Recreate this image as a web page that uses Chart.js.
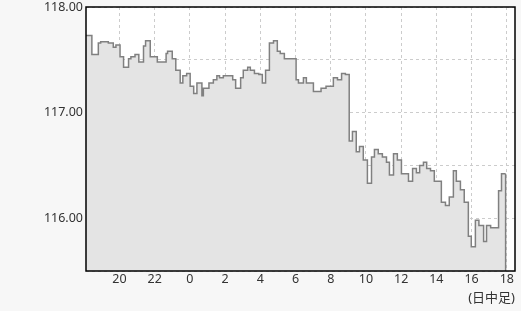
<!DOCTYPE html>
<html><head><meta charset="utf-8">
<script src="https://cdn.jsdelivr.net/npm/chart.js@4/dist/chart.umd.min.js"></script>
<style>html,body{margin:0;padding:0;background:#f7f7f7;}#wrap{width:521px;height:311px;}</style>
</head><body><div id="wrap"><canvas id="c" width="521" height="311"></canvas></div>
<script>
// minutes after 18:00 (previous day) where each step starts; last entry = end of data
const times = [6,26,48,56,82,99,108,122,134,151,
  159,173,186,202,209,225,249,279,284,300,
  312,327,336,349,361,373,384,401,406,425,
  440,452,461,474,506,516,533,542,557,566,
  580,595,607,618,631,645,658,668,682,722,
  730,747,757,781,807,824,849,863,877,890,
  903,914,927,938,951,965,979,989,1002,1016,
  1030,1040,1054,1067,1081,1105,1119,1132,1143,1156,
  1167,1180,1193,1217,1231,1244,1258,1268,1282,1295,
  1309,1319,1333,1345,1361,1371,1385,1412,1422,1436];
const prices = [117.73,117.55,117.66,117.67,117.66,117.62,117.64,117.53,117.43,117.51,
  117.53,117.55,117.48,117.63,117.68,117.53,117.48,117.56,117.58,117.51,
  117.40,117.28,117.35,117.37,117.25,117.18,117.28,117.16,117.23,117.28,
  117.31,117.35,117.33,117.35,117.31,117.23,117.33,117.40,117.43,117.40,
  117.37,117.36,117.28,117.40,117.66,117.68,117.58,117.56,117.51,117.31,
  117.28,117.33,117.28,117.20,117.23,117.25,117.33,117.31,117.37,117.36,
  116.73,116.82,116.63,116.68,116.55,116.33,116.58,116.65,116.61,116.58,
  116.53,116.41,116.61,116.55,116.42,116.35,116.47,116.43,116.50,116.53,
  116.47,116.45,116.35,116.15,116.12,116.20,116.45,116.35,116.27,116.15,
  115.83,115.73,115.98,115.93,115.78,115.93,115.91,116.26,116.42,116.42];
const tickMinutes = [120,240,360,480,600,720,840,960,1080,1200,1320,1440];
const tickLabels = ['20','22','0','2','4','6','8','10','12','14','16','18'];
const yGridValues = [115.5,116,116.5,117,117.5,118];
const xTitle = '(日中足)';

const FONT = "'Noto Sans','Noto Sans CJK JP',sans-serif";
const frame = {
  id: 'frame',
  beforeDraw(c) {
    const {ctx, chartArea: a} = c;
    ctx.save();
    ctx.fillStyle = '#f7f7f7'; ctx.fillRect(0, 0, c.width, c.height);
    ctx.fillStyle = '#ffffff'; ctx.fillRect(a.left, a.top, a.right - a.left, a.bottom - a.top);
    ctx.restore();
  },
  afterDatasetsDraw(c) {
    const {ctx, chartArea: a} = c;
    const meta = c.getDatasetMeta(0);
    const last = meta.data[meta.data.length - 1];
    ctx.save();
    ctx.strokeStyle = '#808080'; ctx.lineWidth = 1.5;
    ctx.beginPath(); ctx.moveTo(last.x, last.y); ctx.lineTo(last.x, a.bottom); ctx.stroke();
    ctx.restore();
  },
  afterDraw(c) {
    const {ctx, chartArea: a} = c;
    ctx.save();
    ctx.strokeStyle = '#000'; ctx.lineWidth = 1.5;
    ctx.strokeRect(a.left, a.top, a.right - a.left, a.bottom - a.top);
    ctx.restore();
  }
};

new Chart(document.getElementById('c'), {
  type: 'line',
  data: { datasets: [{
    data: times.map((t, i) => ({x: t, y: prices[i]})),
    stepped: true, fill: 'start',
    backgroundColor: '#e4e4e4', borderColor: '#808080', borderWidth: 1.5,
    pointRadius: 0, tension: 0
  }]},
  options: {
    responsive: false, animation: false, devicePixelRatio: 1,
    layout: { padding: { top: 0, right: 6, bottom: 0, left: 0 } },
    plugins: { legend: { display: false }, tooltip: { enabled: false } },
    scales: {
      x: {
        type: 'linear', min: 6, max: 1468, z: 1,
        afterBuildTicks: s => { s.ticks = tickMinutes.map(v => ({value: v})); },
        afterFit: s => { s.height = 40; s.paddingLeft = 0; s.paddingRight = 0; },
        grid: { color: '#cccccc', drawTicks: false },
        border: { display: false, dash: [3, 3] },
        ticks: { autoSkip: false, maxRotation: 0, padding: 1, color: '#333',
          font: { family: FONT, size: 12.5 },
          callback: v => tickLabels[tickMinutes.indexOf(v)] },
        title: { display: true, text: xTitle, align: 'end', color: '#333',
          font: { family: FONT, size: 13 }, padding: { top: 0, bottom: 5 } }
      },
      y: {
        min: 115.5, max: 118, z: 1,
        afterBuildTicks: s => { s.ticks = yGridValues.map(v => ({value: v})); },
        afterFit: s => { s.width = 86; s.paddingTop = 7; s.paddingBottom = 0; },
        grid: { color: '#cccccc', drawTicks: false },
        border: { display: false, dash: [3, 3] },
        ticks: { padding: 3, color: '#333', font: { family: FONT, size: 12.5 },
          callback: v => Number.isInteger(v) ? v.toFixed(2) : '' }
      }
    }
  },
  plugins: [frame]
});
</script></body></html>
